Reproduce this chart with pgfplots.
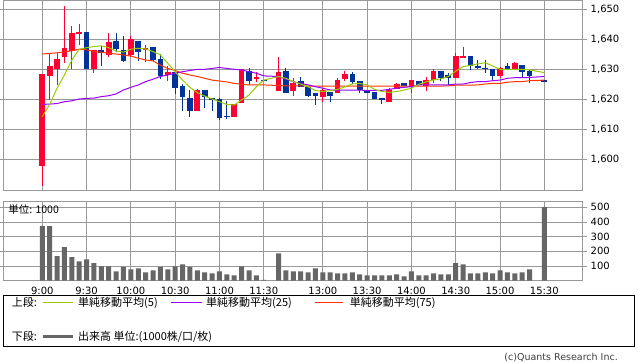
\documentclass[border=0pt]{standalone}
\usepackage{pgfplots}
\pgfplotsset{compat=1.18}
\usepackage{pgfplotstable}
\usepackage{fontspec}
\setmainfont{DejaVu Sans}
\newfontfamily\jp{Noto Sans CJK JP}

\definecolor{upred}{RGB}{255,0,51}
\definecolor{dnblue}{RGB}{0,51,153}
\definecolor{ma5c}{RGB}{153,204,0}
\definecolor{ma25c}{RGB}{153,0,255}
\definecolor{ma75c}{RGB}{255,51,0}
\definecolor{gridgray}{RGB}{153,153,153}
\definecolor{volgray}{RGB}{102,102,102}

% up (red) candles: index, open, high, low, close
\pgfplotstableread{
i O H L C
0 1597.9 1628.4 1591.2 1628.4
1 1627.8 1635.3 1619.8 1631.1
2 1630.1 1635.3 1624.8 1633.4
3 1634.2 1651.1 1632.2 1637.1
4 1636.2 1644.4 1630.1 1642.1
5 1641.8 1645.1 1638.1 1642.4
7 1630.1 1636.4 1628.9 1636.4
9 1634.9 1642.2 1634.2 1639.1
12 1634.8 1641.1 1634.2 1640.1
14 1636.3 1638.1 1632.6 1637.2
17 1628.1 1631.0 1626.2 1629.1
21 1616.2 1623.6 1616.2 1623.1
26 1614.2 1618.3 1614.2 1618.3
27 1618.9 1630.1 1618.9 1630.1
29 1626.9 1629.1 1625.9 1627.6
32 1622.9 1634.2 1622.9 1629.1
34 1622.9 1627.0 1621.1 1625.6
38 1620.9 1623.7 1619.2 1623.1
40 1622.0 1627.1 1622.0 1626.4
41 1626.9 1629.6 1626.0 1628.6
47 1619.2 1623.7 1619.2 1623.1
48 1623.3 1625.6 1623.3 1625.1
50 1624.2 1626.4 1622.2 1626.4
52 1624.4 1627.6 1622.8 1626.4
53 1626.4 1630.0 1625.3 1629.4
56 1627.2 1635.3 1627.2 1634.4
57 1633.9 1637.4 1633.9 1634.4
62 1627.9 1630.9 1627.2 1630.3
64 1630.2 1632.6 1630.2 1632.2
}\upT

% down (blue) candles
\pgfplotstableread{
i O H L C
6 1642.3 1642.3 1630.1 1630.1
8 1636.4 1637.9 1631.2 1635.3
10 1639.4 1642.2 1635.9 1636.9
11 1636.3 1641.2 1632.6 1632.9
13 1639.4 1639.4 1632.9 1635.9
15 1637.4 1637.4 1632.8 1633.1
16 1633.4 1635.1 1626.8 1627.7
18 1629.1 1629.1 1621.8 1623.9
19 1624.4 1625.1 1616.1 1620.9
20 1620.4 1623.1 1614.2 1616.2
22 1623.1 1623.1 1617.2 1620.9
23 1620.4 1620.4 1616.2 1619.9
24 1620.0 1620.3 1613.1 1613.9
25 1614.4 1619.4 1613.3 1614.4
28 1629.4 1630.4 1624.8 1626.2
30 1626.4 1626.4 1626.4 1626.4
33 1629.4 1630.3 1622.2 1622.2
35 1626.0 1627.4 1624.0 1624.0
36 1624.0 1624.0 1620.9 1621.2
37 1622.1 1622.1 1618.2 1621.0
39 1622.4 1622.4 1619.0 1621.1
42 1628.4 1629.0 1625.0 1625.8
43 1626.1 1626.1 1622.0 1623.1
44 1623.1 1623.1 1622.2 1622.2
45 1622.4 1622.4 1620.0 1620.0
46 1620.4 1620.4 1618.3 1620.0
49 1625.6 1625.6 1624.4 1624.4
51 1626.0 1626.0 1624.7 1624.7
54 1629.4 1629.4 1626.2 1627.2
55 1628.1 1628.7 1624.8 1627.2
58 1634.4 1634.4 1629.9 1631.2
59 1630.9 1633.1 1630.0 1630.9
60 1630.3 1633.1 1628.9 1630.3
61 1630.0 1630.0 1626.4 1627.9
63 1631.1 1632.2 1630.1 1630.1
65 1631.4 1631.4 1627.4 1629.2
66 1629.3 1629.7 1625.3 1627.9
68 1626.1 1626.1 1626.1 1626.1
}\dnT

% moving averages
\pgfplotstableread{
i ma5 ma25 ma75
0 1614.2 1618.3 1635.1
1 1618.3 1618.4 1635.3
2 1623.7 1618.6 1635.5
3 1628.1 1619.2 1635.8
4 1633.1 1619.5 1636.2
5 1636.7 1620.1 1636.7
6 1637.2 1620.3 1636.5
7 1637.6 1620.4 1635.9
8 1637.8 1620.9 1635.7
9 1637.2 1621.2 1635.3
10 1636.1 1621.8 1635.1
11 1635.7 1623.1 1634.8
12 1636.7 1624.0 1634.4
13 1637.0 1624.8 1633.7
14 1636.8 1625.9 1633.1
15 1635.9 1626.7 1632.8
16 1634.8 1627.6 1631.4
17 1632.0 1628.1 1630.3
18 1629.2 1628.7 1629.6
19 1626.4 1629.2 1628.7
20 1624.0 1629.6 1628.1
21 1622.2 1630.0 1627.6
22 1621.1 1630.0 1627.0
23 1620.1 1630.3 1626.4
24 1619.2 1630.6 1626.1
25 1618.3 1630.3 1625.8
26 1618.1 1630.0 1625.3
27 1619.8 1629.8 1625.0
28 1621.4 1629.2 1624.8
29 1624.2 1628.7 1624.8
30 1626.4 1627.8 1624.8
32 1627.6 1627.6 1624.6
33 1627.0 1626.7 1624.5
34 1625.9 1625.9 1624.5
35 1625.1 1625.3 1624.5
36 1624.2 1624.8 1624.4
37 1622.9 1624.2 1624.4
38 1622.6 1623.7 1624.4
39 1622.9 1623.1 1624.4
40 1623.3 1623.1 1624.4
41 1624.2 1623.1 1624.4
42 1625.1 1623.1 1624.4
43 1625.3 1623.1 1624.4
44 1624.8 1622.9 1624.4
45 1623.3 1623.0 1624.4
46 1622.6 1623.0 1624.4
47 1622.3 1623.3 1624.4
48 1622.6 1623.7 1624.4
49 1623.1 1624.0 1624.4
50 1623.7 1624.2 1624.4
51 1625.0 1624.8 1624.4
52 1625.8 1624.8 1624.4
53 1626.5 1624.8 1624.4
54 1626.8 1624.8 1624.4
55 1627.6 1624.8 1624.5
56 1629.4 1625.1 1624.7
57 1630.9 1625.1 1624.7
58 1631.3 1625.6 1624.7
59 1631.8 1625.9 1624.8
60 1632.2 1625.9 1625.1
61 1631.1 1626.2 1625.3
62 1630.0 1626.4 1625.3
63 1630.0 1627.0 1625.7
64 1630.0 1627.2 1625.9
65 1630.0 1627.2 1625.9
66 1629.8 1627.3 1626.2
68 1628.9 1627.6 1626.4
}\maT

% volume (x1000)
\pgfplotstableread{
i v
0 372
1 372
2 167
3 228
4 160
5 132
6 146
7 119
8 98
9 98
10 64
11 94
12 78
13 84
14 57
15 71
16 94
17 78
18 98
19 112
20 94
21 71
22 57
23 50
24 64
25 43
26 37
27 98
28 71
29 37
30 6
32 187
33 71
34 64
35 64
36 57
37 84
38 57
39 57
40 50
41 50
42 57
43 43
44 37
45 37
46 37
47 37
48 43
49 30
50 64
51 37
52 37
53 50
54 43
55 43
56 119
57 112
58 50
59 50
60 57
61 50
62 71
63 57
64 50
65 57
66 78
68 502
}\volT

\pgfplotsset{
  panel/.style={
    anchor=south west, scale only axis, width=579.4pt,
    xmin=-5.28, xmax=73.2,
    xtick={0,6,12,18,24,30,38,44,50,56,62,68},
    yticklabel pos=right,
    grid=major, major grid style={gridgray, line width=0.9pt},
    axis line style={gridgray, line width=0.9pt},
    xtick style={draw=none}, ytick style={gridgray, line width=0.9pt},
    tick align=outside, major tick length=4.5pt,
    tick label style={font=\fontsize{10}{12}\selectfont, text=black},
    /pgf/number format/assume math mode=true,
    /pgf/number format/1000 sep={,},
  },
}

\begin{document}
\begin{tikzpicture}
\useasboundingbox (0,0) rectangle (638pt,362pt);
\fill[white] (0,0) rectangle (638pt,362pt);

% ---------- price panel ----------
\begin{axis}[panel, at={(3.3pt,171.7pt)}, height=189.6pt,
  ymin=1589.67, ymax=1652.87, ytick={1600,1610,...,1650},
  xticklabels={}]
  % wicks
  \addplot[draw=none, mark=none, forget plot,
    error bars/.cd, y dir=both, y explicit, error mark=none,
    error bar style={draw=upred, line width=1pt}]
    table[x=i, y expr={(\thisrow{H}+\thisrow{L})/2},
          y error expr={(\thisrow{H}-\thisrow{L})/2}] {\upT};
  \addplot[draw=none, mark=none, forget plot,
    error bars/.cd, y dir=both, y explicit, error mark=none,
    error bar style={draw=dnblue, line width=1pt}]
    table[x=i, y expr={(\thisrow{H}+\thisrow{L})/2},
          y error expr={(\thisrow{H}-\thisrow{L})/2}] {\dnT};
  % bodies
  \addplot[draw=none, mark=none, forget plot,
    error bars/.cd, y dir=both, y explicit, error mark=none,
    error bar style={draw=upred, line width=5.7pt}]
    table[x=i, y expr={(\thisrow{O}+\thisrow{C})/2},
          y error expr={max(abs(\thisrow{O}-\thisrow{C})/2,0.2)}] {\upT};
  \addplot[draw=none, mark=none, forget plot,
    error bars/.cd, y dir=both, y explicit, error mark=none,
    error bar style={draw=dnblue, line width=5.7pt}]
    table[x=i, y expr={(\thisrow{O}+\thisrow{C})/2},
          y error expr={max(abs(\thisrow{O}-\thisrow{C})/2,0.2)}] {\dnT};
  % moving averages
  \addplot[ma75c, line width=1pt, mark=none] table[x=i, y=ma75] {\maT};
  \addplot[ma25c, line width=1pt, mark=none] table[x=i, y=ma25] {\maT};
  \addplot[ma5c, line width=1pt, mark=none] table[x=i, y=ma5] {\maT};
\end{axis}

% ---------- volume panel ----------
\begin{axis}[panel, at={(3.3pt,81.3pt)}, height=79.7pt,
  ymin=0, ymax=543, ytick={100,200,...,500},
  xticklabels={9:00,9:30,10:00,10:30,11:00,11:30,13:00,13:30,14:00,14:30,15:00,15:30},
  xticklabel style={yshift=1.5pt}]
  \addplot[ybar, bar width=5pt, bar shift=0pt, fill=volgray, draw=none] table[x=i, y=v] {\volT};
\end{axis}

\node[anchor=west, inner sep=0pt, font=\jp\fontsize{10.5}{12}\selectfont] at (8.3pt,152.3pt) {単位: 1000};

% ---------- legend box ----------
\draw[black, line width=1pt] (3.3pt,16pt) rectangle (634.7pt,66.7pt);
\begin{scope}[every node/.style={anchor=west, inner sep=0pt, font=\jp\fontsize{11}{13}\selectfont}]
  \node at (11.7pt,59.3pt) {上段:};
  \draw[ma5c, line width=1pt] (43pt,59.3pt) -- (73pt,59.3pt);
  \node at (78pt,59.3pt) {単純移動平均(5)};
  \draw[ma25c, line width=1pt] (171pt,59.3pt) -- (202pt,59.3pt);
  \node at (206pt,59.3pt) {単純移動平均(25)};
  \draw[ma75c, line width=1pt] (315pt,59.3pt) -- (343pt,59.3pt);
  \node at (349.7pt,59.3pt) {単純移動平均(75)};
  \node at (11.7pt,25.3pt) {下段:};
  \draw[volgray, line width=3.5pt] (43pt,25.3pt) -- (73pt,25.3pt);
  \node at (78pt,25.3pt) {出来高 単位:(1000株/口/枚)};
\end{scope}
\node[anchor=base east, inner sep=0pt, text=black!75, font=\fontsize{9.5}{11}\selectfont] at (618pt,1.8pt) {(c)Quants Research Inc.};
\end{tikzpicture}
\end{document}
